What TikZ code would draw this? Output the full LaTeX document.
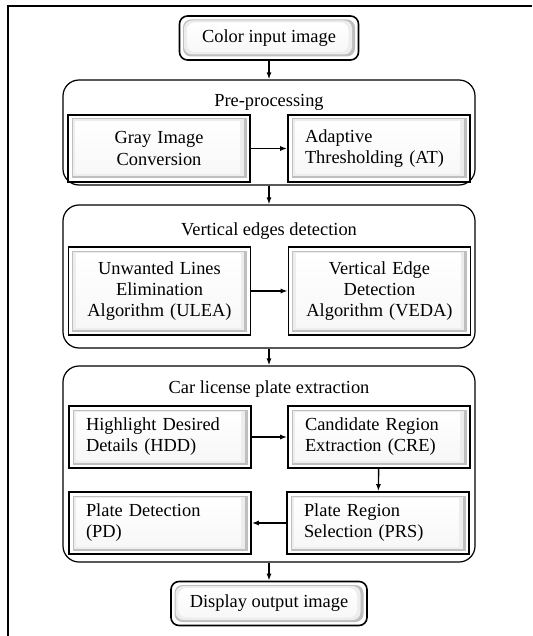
\documentclass[tikz,border=0pt]{standalone}
\usepackage{fontspec}
\setmainfont{Liberation Serif}
\usetikzlibrary{positioning,arrows.meta}

\begin{document}
\begin{tikzpicture}[
  x=1pt, y=-1pt,
  >={Latex[length=7pt,width=5pt]},
  font=\fontsize{18.4}{21}\selectfont,
  bevel/.style={
    path picture={
      \coordinate (pa) at (path picture bounding box.south west);
      \coordinate (pb) at (path picture bounding box.north east);
      \fill[gray!50] ([shift={(3.5pt,3.5pt)}]pa) rectangle ([shift={(-3.5pt,-3.5pt)}]pb);
      \fill[gray!14] ([shift={(4.5pt,5.5pt)}]pa) rectangle ([shift={(-6.5pt,-4.5pt)}]pb);
      \shade[top color=white, bottom color=gray!6] ([shift={(7.5pt,8pt)}]pa) rectangle ([shift={(-10pt,-6.5pt)}]pb);
    }
  },
  stepbox/.style={
    draw,
    line width=1.6pt,
    bevel,
    text width=148pt,
    inner xsep=17pt,
    inner ysep=0pt,
    minimum height=#1
  },
  endbox/.style={
    draw,
    line width=1.6pt,
    rounded corners=8pt,
    bevel,
    inner xsep=0pt,
    minimum width=#1,
    minimum height=44pt
  },
  group/.style={
    draw,
    line width=1.2pt,
    rounded corners=16pt,
    minimum width=412pt,
    minimum height=#1
  },
  edge/.style={->, line width=1.4pt}
]
\useasboundingbox (0,0) rectangle (532,636);
\draw[line width=2pt] (8,636) -- (8,6) -- (532,6);

\node[endbox=179pt] (input) at (269,38) {Color input image};

% pre-processing
\node[group=105pt] (pre) at (269,132.5) {};
\node (preTitle) at (269,102) {Pre-processing};
\node[stepbox=67pt, align=center] (gray) at (159,148.5) {Gray Image\\Conversion};
\node[stepbox=67pt, align=left] (at) at (379,148.5) {Adaptive\\Thresholding (AT)};

% vertical edges
\node[group=143pt] (ved) at (269,276.5) {};
\node (vedTitle) at (269,231) {Vertical edges detection};
\node[stepbox=88pt, align=center] (ulea) at (159.5,291) {Unwanted Lines\\Elimination\\Algorithm (ULEA)};
\node[stepbox=88pt, align=center] (veda) at (379.5,291) {Vertical Edge\\Detection\\Algorithm (VEDA)};

% plate extraction
\node[group=196pt] (clp) at (269,464) {};
\node (clpTitle) at (269,389) {Car license plate extraction};
\node[stepbox=62pt, align=left] (hdd) at (160,437) {Highlight Desired\\Details (HDD)};
\node[stepbox=62pt, align=left] (cre) at (379,437) {Candidate Region\\Extraction (CRE)};
\node[stepbox=62pt, align=left] (pd) at (160,523) {Plate Detection\\(PD)};
\node[stepbox=62pt, align=left] (prs) at (378,523) {Plate Region\\Selection (PRS)};

\node[endbox=196pt] (output) at (269,603.5) {Display output image};

\draw[edge] (input) -- (pre);
\draw[edge] (gray) -- (at);
\draw[edge] (pre) -- (ved);
\draw[edge] (ulea) -- (veda);
\draw[edge] (ved) -- (clp);
\draw[edge] (hdd) -- (cre);
\draw[edge] (cre) -- (prs);
\draw[edge] (prs) -- (pd);
\draw[edge] (clp) -- (output);
\end{tikzpicture}
\end{document}
